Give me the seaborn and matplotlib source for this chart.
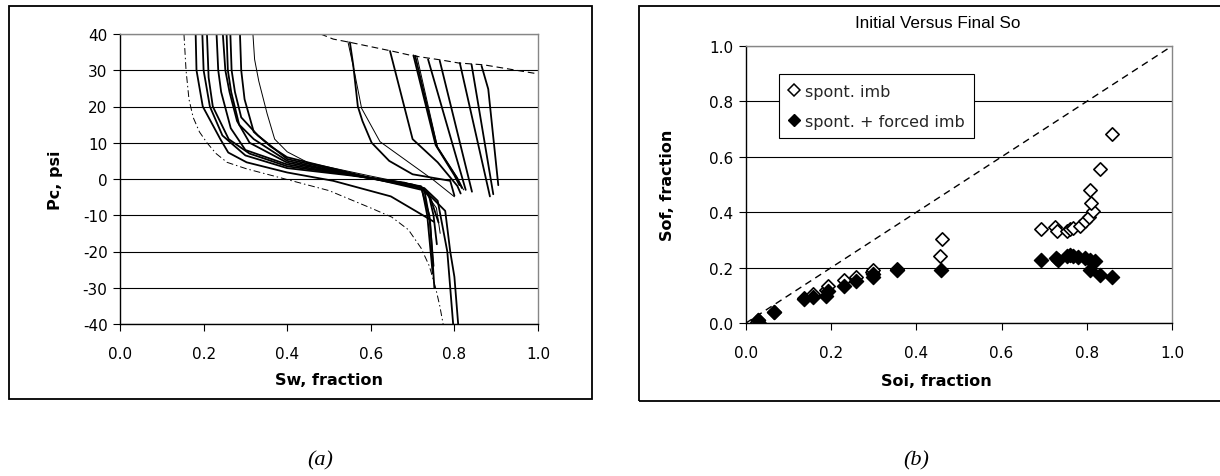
import numpy as np
import pandas as pd
import matplotlib
matplotlib.use("Agg")
import matplotlib.pyplot as plt
import seaborn as sns
from matplotlib.patches import Rectangle
from matplotlib.lines import Line2D

# ---------------- data: panel (a) capillary pressure curves ----------------
# drainage / imbibition curves (left group)
left_sw = [
    [0.181, 0.183, 0.198, 0.240, 0.259, 0.303, 0.400, 0.510, 0.648, 0.751],
    [0.197, 0.200, 0.215, 0.245, 0.300, 0.400, 0.550, 0.680, 0.722, 0.735, 0.748],
    [0.208, 0.212, 0.222, 0.260, 0.310, 0.400, 0.560, 0.700, 0.728, 0.742, 0.752],
    [0.231, 0.235, 0.242, 0.265, 0.300, 0.400, 0.570, 0.710, 0.738, 0.750, 0.758],
    [0.246, 0.252, 0.262, 0.280, 0.310, 0.400, 0.580, 0.720, 0.742, 0.762],
    [0.255, 0.258, 0.266, 0.285, 0.320, 0.400, 0.580, 0.720, 0.745, 0.778, 0.790, 0.800, 0.809],
    [0.264, 0.267, 0.275, 0.290, 0.330, 0.400, 0.590, 0.728, 0.760, 0.783, 0.797],
    [0.287, 0.290, 0.298, 0.320, 0.360, 0.400, 0.600, 0.722, 0.740, 0.750],
    [0.318, 0.322, 0.332, 0.352, 0.370, 0.400, 0.450, 0.600, 0.720, 0.757, 0.766],
]
left_pc = [
    [40, 30, 20, 11, 7.3, 4.6, 1.8, -0.5, -4.8, -11.8],
    [40, 30, 20, 12, 6.5, 3.0, 1.0, -1.0, -2.5, -10, -26],
    [40, 28, 20, 11, 7.0, 3.5, 1.0, -1.5, -3.0, -12, -30],
    [40, 30, 24, 14, 8.0, 4.0, 0.8, -2.0, -4.0, -10, -18],
    [40, 30, 24, 16, 10, 4.5, 0.7, -2.0, -5.0, -12],
    [40, 30, 24, 15, 11, 5.0, 0.6, -2.5, -5.0, -8.8, -20, -27, -40],
    [40, 30, 24, 17, 12, 5.5, 0.5, -2.5, -6.0, -20, -40],
    [40, 30, 22, 13, 9.0, 6.0, 0.3, -3.0, -10, -24],
    [40, 33, 27, 18, 11, 7.5, 4.5, 0.8, -2.0, -8.0, -15],
]
left_thin = [False, False, False, False, False, False, False, False, True]

# curves starting from the upper bound (right group)
right_sw = [
    [0.550, 0.558, 0.569, 0.580, 0.602, 0.644, 0.700, 0.790, 0.800],
    [0.545, 0.560, 0.578, 0.622, 0.750, 0.800],
    [0.646, 0.700, 0.760, 0.807, 0.815],
    [0.702, 0.755, 0.800, 0.812],
    [0.706, 0.758, 0.805, 0.818],
    [0.710, 0.760, 0.808, 0.822],
    [0.737, 0.827],
    [0.765, 0.842],
    [0.813, 0.885],
    [0.841, 0.855, 0.893],
    [0.865, 0.881, 0.905],
]
right_pc = [
    [37.7, 31.4, 20, 16, 10, 5, 1.3, -0.5, -4.6],
    [38.0, 30, 19.5, 10.3, -0.3, -4.9],
    [35.3, 11, 4.6, -1.9, -4.0],
    [34.1, 9.4, 1.0, -1.7],
    [34.0, 9.0, 0.5, -2.5],
    [34.0, 8.6, 0.2, -3.0],
    [33.0, -3.0],
    [32.6, -3.5],
    [32.0, -4.8],
    [31.6, 22, -4.2],
    [31.2, 24.8, -1.7],
]
right_thin = [False, True, False, False, False, True, False, False, False, False, False]

# bounding (dashed) curves
upper_sw = [0.48, 0.51, 0.55, 0.65, 0.70, 0.77, 0.81, 0.87, 1.0]
upper_pc = [40, 38.6, 37.7, 35.3, 34.0, 32.8, 32.0, 31.5, 29.0]
lower_sw = [0.153, 0.158, 0.165, 0.175, 0.190, 0.208, 0.230, 0.256, 0.303, 0.395,
            0.500, 0.600, 0.650, 0.690, 0.720, 0.740, 0.755, 0.765, 0.773]
lower_pc = [40, 30, 22, 17, 13, 10, 7, 4.6, 2.8, 0, -3.2, -8, -10.5, -14, -19, -24, -30, -35, -40]

pc_ticks = [-40, -30, -20, -10, 0, 10, 20, 30, 40]
frac_ticks = [0.0, 0.2, 0.4, 0.6, 0.8, 1.0]
frac_labels = ["0.0", "0.2", "0.4", "0.6", "0.8", "1.0"]

# ---------------- data: panel (b) initial vs final So ----------------
soi_spont = [0.025, 0.028, 0.065, 0.136, 0.158, 0.188, 0.193, 0.229, 0.258, 0.295, 0.299,
             0.355, 0.455, 0.459, 0.692, 0.725, 0.730, 0.753, 0.761, 0.768, 0.784,
             0.796, 0.804, 0.815, 0.811, 0.808, 0.831, 0.860]
sof_spont = [0.005, 0.012, 0.040, 0.090, 0.106, 0.120, 0.135, 0.154, 0.166, 0.183, 0.190,
             0.195, 0.241, 0.303, 0.339, 0.348, 0.333, 0.333, 0.339, 0.343, 0.351,
             0.369, 0.381, 0.405, 0.433, 0.481, 0.556, 0.683]
soi_forced = [0.028, 0.030, 0.065, 0.136, 0.158, 0.188, 0.193, 0.229, 0.258, 0.297, 0.297,
              0.355, 0.457, 0.692, 0.728, 0.732, 0.753, 0.761, 0.768, 0.780, 0.796,
              0.808, 0.819, 0.808, 0.831, 0.860]
sof_forced = [0.012, 0.000, 0.039, 0.087, 0.093, 0.096, 0.114, 0.135, 0.151, 0.165, 0.178,
              0.193, 0.190, 0.229, 0.234, 0.229, 0.241, 0.245, 0.241, 0.237, 0.234,
              0.229, 0.223, 0.193, 0.173, 0.167]
unit_line = [0.0, 1.0]

# ---------------- figure ----------------
sns.set_theme(style="white")
plt.rcParams["font.family"] = ["DejaVu Sans"]
plt.rcParams["axes.unicode_minus"] = False

W, H = 1220, 477
fig = plt.figure(figsize=(W / 100, H / 100), dpi=100)
fig.patch.set_facecolor("white")

def fx(px):
    return px / W

def fy(py):
    return 1 - py / H

# panel frames
fig.add_artist(Rectangle((fx(9), fy(400)), (592 - 9) / W, (400 - 7) / H,
                         transform=fig.transFigure, fill=False, ec="black", lw=1.3))
fig.add_artist(Rectangle((fx(639), fy(402)), (1225 - 639) / W, (402 - 7) / H,
                         transform=fig.transFigure, fill=False, ec="black", lw=1.3))

GRAY = "#868686"

def style_axes(ax):
    ax.set_facecolor("white")
    for s in ["left", "bottom"]:
        ax.spines[s].set_color("black")
        ax.spines[s].set_linewidth(1.0)
    for s in ["top", "right"]:
        ax.spines[s].set_color(GRAY)
        ax.spines[s].set_linewidth(1.0)
    ax.xaxis.grid(False)
    ax.yaxis.grid(True, color="black", linewidth=0.8)
    ax.set_axisbelow(True)
    ax.tick_params(axis="both", which="major", direction="out", length=5, width=0.8,
                   color="black", labelsize=11, labelcolor="black")
    ax.tick_params(axis="x", pad=11)
    ax.tick_params(axis="y", pad=4)
    ax.tick_params(bottom=True, left=True, top=False, right=False)

# ----- panel (a)
axL = fig.add_axes([fx(120), fy(325), (538 - 120) / W, (325 - 35) / H])
for sw, pc, thin in zip(left_sw, left_pc, left_thin):
    sns.lineplot(x=sw, y=pc, sort=False, estimator=None, color="black",
                 linewidth=0.7 if thin else 1.3, ax=axL)
for sw, pc, thin in zip(right_sw, right_pc, right_thin):
    sns.lineplot(x=sw, y=pc, sort=False, estimator=None, color="black",
                 linewidth=0.7 if thin else 1.3, ax=axL)
sns.lineplot(x=upper_sw, y=upper_pc, sort=False, estimator=None, color="black",
             linewidth=0.8, linestyle=(0, (6, 3.5)), ax=axL)
sns.lineplot(x=lower_sw, y=lower_pc, sort=False, estimator=None, color="black",
             linewidth=0.7, linestyle=(0, (7, 3, 1.5, 3)), ax=axL)
axL.set_xlim(0, 1)
axL.set_ylim(-40, 40)
axL.set_yticks(pc_ticks)
axL.set_yticklabels([str(v) for v in pc_ticks])
axL.set_xticks(frac_ticks)
axL.set_xticklabels(frac_labels)
style_axes(axL)
axL.set_xlabel("Sw, fraction", fontsize=11.5, fontweight="bold", color="black")
axL.set_ylabel("Pc, psi", fontsize=11.5, fontweight="bold", color="black")
axL.xaxis.set_label_coords(0.5, (325 - 373) / 290)
axL.yaxis.set_label_coords((63 - 120) / 418, 0.5)

# ----- panel (b)
axR = fig.add_axes([fx(746), fy(324), (1172 - 746) / W, (324 - 47) / H])
sns.lineplot(x=unit_line, y=unit_line, sort=False, estimator=None, color="black",
             linewidth=1.0, linestyle=(0, (5, 3.5)), ax=axR)
sns.scatterplot(x=soi_spont, y=sof_spont, marker="D", s=46, color="white",
                edgecolor="black", linewidth=1.2, ax=axR, zorder=3)
sns.scatterplot(x=soi_forced, y=sof_forced, marker="D", s=52, color="black",
                edgecolor="black", linewidth=1.0, ax=axR, zorder=4)
axR.set_xlim(0, 1)
axR.set_ylim(0, 1)
axR.set_xticks(frac_ticks)
axR.set_xticklabels(frac_labels)
axR.set_yticks(frac_ticks)
axR.set_yticklabels(frac_labels)
style_axes(axR)
axR.set_xlabel("Soi, fraction", fontsize=11.5, fontweight="bold", color="black")
axR.set_ylabel("Sof, fraction", fontsize=11.5, fontweight="bold", color="black")
axR.xaxis.set_label_coords((936 - 746) / 426, (324 - 374) / 277)
axR.yaxis.set_label_coords((675 - 746) / 426, 0.5)

handles = [
    Line2D([], [], marker="D", linestyle="none", markerfacecolor="white",
           markeredgecolor="black", markeredgewidth=1.1, markersize=6),
    Line2D([], [], marker="D", linestyle="none", markerfacecolor="black",
           markeredgecolor="black", markersize=6),
]
leg = axR.legend(handles, ["spont. imb", "spont. + forced imb"], loc="upper left",
                 bbox_to_anchor=((779 - 746) / 426, (324 - 75) / 277),
                 frameon=True, fancybox=False, shadow=False, framealpha=1,
                 edgecolor="black", fontsize=11.5, handlelength=0.7,
                 handletextpad=0.3, borderpad=0.6, labelspacing=0.95,
                 borderaxespad=0)
leg.get_frame().set_linewidth(0.8)

fig.text(fx(938), fy(24), "Initial Versus Final So", ha="center", va="center",
         fontsize=12.3, family=["Liberation Sans Narrow", "Liberation Sans"], color="black")

fig.text(fx(320), fy(461), "(a)", ha="center", va="center", fontsize=16,
         family=["Liberation Serif", "DejaVu Serif"], style="italic", color="black")
fig.text(fx(916), fy(461), "(b)", ha="center", va="center", fontsize=16,
         family=["Liberation Serif", "DejaVu Serif"], style="italic", color="black")

fig.savefig("out.png", dpi=100, facecolor="white")
